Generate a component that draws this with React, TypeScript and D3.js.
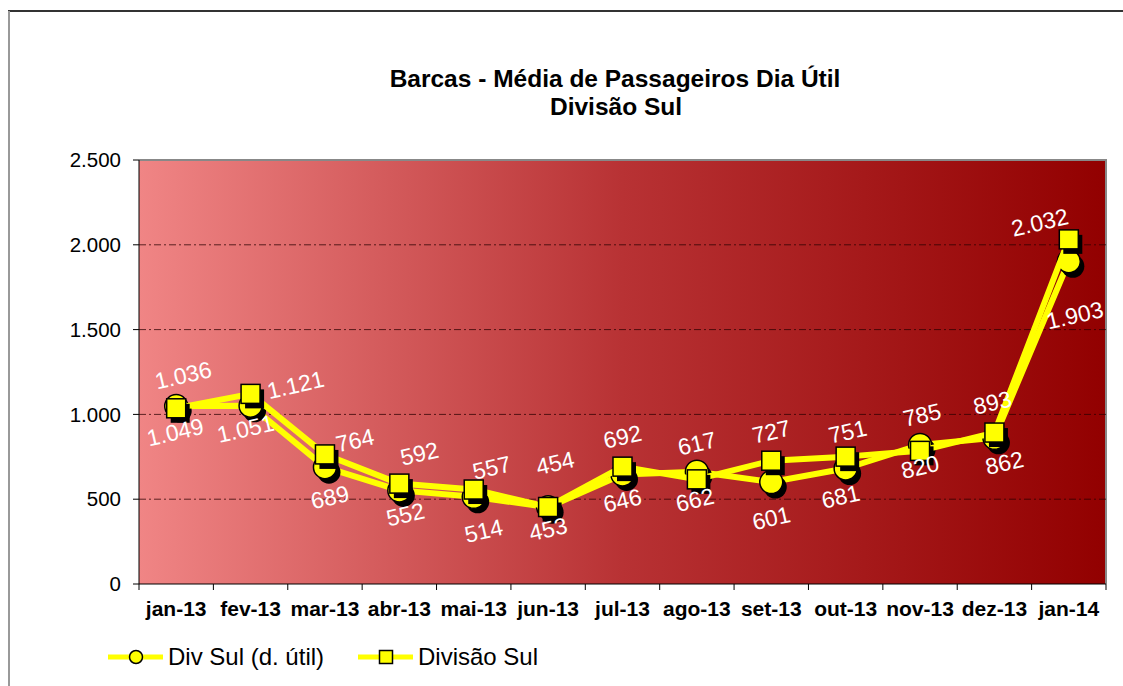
import React from 'react';
import * as d3 from 'd3';

// months on the x axis
const months = ['jan-13', 'fev-13', 'mar-13', 'abr-13', 'mai-13', 'jun-13', 'jul-13', 'ago-13', 'set-13', 'out-13', 'nov-13', 'dez-13', 'jan-14'];
// Div Sul (d. útil) - circles
const divSulUtil = [1049, 1051, 689, 552, 514, 453, 646, 662, 601, 681, 820, 862, 1903];
// Divisão Sul - squares
const divisaoSul = [1036, 1121, 764, 592, 557, 454, 692, 617, 727, 751, 785, 893, 2032];
const yTicks = [0, 500, 1000, 1500, 2000, 2500];

// label nudges relative to each point (dx, dy)
const circleLabelNudge = [[-1, 26], [-5, 23], [5, 30], [6, 24], [10, 34], [0, 22], [0, 26], [-2, 28], [0, 36], [-5, 28], [0, 22], [10, 25], [6, 54]];
const squareLabelNudge = [[7, -33], [45, -9], [30, -14], [20, -30], [18, -22], [7, -44], [0, -30], [0, -36], [0, -29], [2, -25], [2, -36], [-2, -30], [-29, -17]];

const W = 1123;
const H = 686;
const left = 139, right = 1106, top = 160, bottom = 584;
const font = "Arial, 'Liberation Sans', sans-serif";

const fmt = d3.formatLocale({ decimal: ',', thousands: '.', grouping: [3], currency: ['R$', ''] }).format(',d');

const App = () => {
  const x = d3.scaleBand<string>().domain(months).range([left, right]).padding(0);
  const y = d3.scaleLinear().domain([0, 2500]).range([bottom, top]);
  const cx = (i: number) => (x(months[i]) as number) + x.bandwidth() / 2;

  const line = d3.line<number>().x((d, i) => cx(i)).y(d => y(d));

  const r = 11.5;
  const sq = 19;

  return (
    <svg width={W} height={H} style={{ position: 'absolute', left: 0, top: 0, background: '#fff' }} fontFamily={font}>
      <defs>
        <linearGradient id="bg" x1="0" x2="1" y1="0" y2="0">
          <stop offset="0" stopColor="#F08585" />
          <stop offset="0.5" stopColor="#B83234" />
          <stop offset="1" stopColor="#920000" />
        </linearGradient>
      </defs>

      {/* outer frame */}
      <line x1={8} x2={1123} y1={11} y2={11} stroke="#333" strokeWidth={2} />
      <line x1={9} x2={9} y1={11} y2={H} stroke="#999" strokeWidth={2} />

      {/* title */}
      <text x={615} y={87} textAnchor="middle" fontSize={24.5} fontWeight="bold">Barcas - Média de Passageiros Dia Útil</text>
      <text x={616} y={115} textAnchor="middle" fontSize={24.5} fontWeight="bold">Divisão Sul</text>

      {/* plot area */}
      <rect x={left} y={top} width={right - left} height={bottom - top} fill="url(#bg)" />
      <polyline points={`${left},${top} ${right},${top} ${right},${bottom}`} fill="none" stroke="#888" strokeWidth={2} />

      {yTicks.filter(t => t > 0 && t < 2500).map(t => (
        <line key={t} x1={left} x2={right} y1={y(t)} y2={y(t)} stroke="#2a0000" strokeOpacity={0.75} strokeDasharray="7,3,2,3" />
      ))}

      {/* axes */}
      <line x1={left} x2={left} y1={top} y2={bottom} stroke="#000" />
      <line x1={left} x2={right} y1={bottom} y2={bottom} stroke="#000" />
      {yTicks.map(t => (
        <g key={t}>
          <line x1={left - 6} x2={left} y1={y(t)} y2={y(t)} stroke="#000" />
          <text x={121} y={y(t)} dy="0.35em" textAnchor="end" fontSize={20.5}>{fmt(t)}</text>
        </g>
      ))}
      {months.map((m, i) => (
        <g key={m}>
          <line x1={x(m) as number} x2={x(m) as number} y1={bottom} y2={bottom + 6} stroke="#000" />
          <text x={cx(i)} y={616} textAnchor="middle" fontSize={21} fontWeight="bold">{m}</text>
        </g>
      ))}
      <line x1={right} x2={right} y1={bottom} y2={bottom + 6} stroke="#000" />

      {/* Div Sul (d. útil) */}
      <path d={line(divSulUtil) as string} fill="none" stroke="#FFFF00" strokeWidth={6} strokeLinejoin="round" />
      {divSulUtil.map((v, i) => (
        <circle key={'cs' + i} cx={cx(i) + 4} cy={y(v) + 5} r={r} fill="#000" />
      ))}
      {divSulUtil.map((v, i) => (
        <circle key={'c' + i} cx={cx(i)} cy={y(v)} r={r} fill="#FFFF00" stroke="#000" strokeWidth={1.5} />
      ))}

      {/* Divisão Sul */}
      <path d={line(divisaoSul) as string} fill="none" stroke="#FFFF00" strokeWidth={6} strokeLinejoin="round" />
      {divisaoSul.map((v, i) => (
        <rect key={'ss' + i} x={cx(i) - sq / 2 + 4} y={y(v) - sq / 2 + 5} width={sq} height={sq} fill="#000" />
      ))}
      {divisaoSul.map((v, i) => (
        <rect key={'s' + i} x={cx(i) - sq / 2} y={y(v) - sq / 2} width={sq} height={sq} fill="#FFFF00" stroke="#000" strokeWidth={1.5} />
      ))}

      {/* data labels */}
      {divSulUtil.map((v, i) => {
        const lx = cx(i) + circleLabelNudge[i][0];
        const ly = y(v) + circleLabelNudge[i][1];
        return (
          <text key={'cl' + i} x={lx} y={ly} dy="0.35em" textAnchor="middle" fontSize={23} fill="#fff" transform={`rotate(-13 ${lx} ${ly})`}>{fmt(v)}</text>
        );
      })}
      {divisaoSul.map((v, i) => {
        const lx = cx(i) + squareLabelNudge[i][0];
        const ly = y(v) + squareLabelNudge[i][1];
        return (
          <text key={'sl' + i} x={lx} y={ly} dy="0.35em" textAnchor="middle" fontSize={23} fill="#fff" transform={`rotate(-13 ${lx} ${ly})`}>{fmt(v)}</text>
        );
      })}

      {/* legend */}
      <line x1={108} x2={163} y1={657} y2={657} stroke="#FFFF00" strokeWidth={5} />
      <circle cx={136} cy={657} r={6.5} fill="#FFFF00" stroke="#000" strokeWidth={1.5} />
      <text x={168} y={657} dy="0.35em" fontSize={24}>Div Sul (d. útil)</text>
      <line x1={358} x2={413} y1={657} y2={657} stroke="#FFFF00" strokeWidth={5} />
      <rect x={379.5} y={650.5} width={13} height={13} fill="#FFFF00" stroke="#000" strokeWidth={1.5} />
      <text x={418} y={657} dy="0.35em" fontSize={24}>Divisão Sul</text>
    </svg>
  );
};

export default App;
